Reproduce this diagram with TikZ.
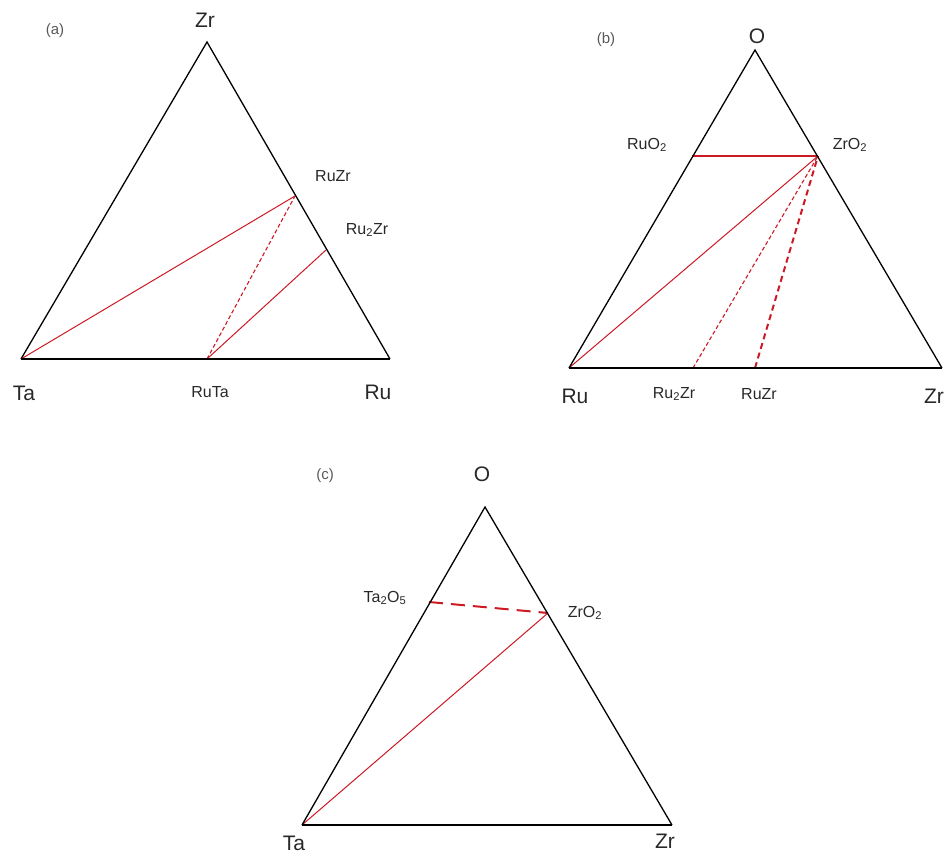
\documentclass[tikz,border=0pt]{standalone}
\usepackage{fontspec}
\setmainfont{Liberation Sans}
\definecolor{tiered}{RGB}{205,25,35}
\definecolor{labgray}{RGB}{40,40,40}
\begin{document}
\begin{tikzpicture}[x=1pt,y=-1pt,
  edge/.style={draw=black, line width=1.3pt},
  baseedge/.style={draw=black, line width=2.2pt},
  tie/.style={draw=tiered, line width=1pt},
  tiethick/.style={draw=tiered, line width=2pt},
  tiedash/.style={draw=tiered, line width=1.1pt, dash pattern=on 4pt off 2.5pt},
  tiedashthick/.style={draw=tiered, line width=2pt, dash pattern=on 6pt off 4pt},
  tielong/.style={draw=tiered, line width=2pt, dash pattern=on 14pt off 8pt},
  vlab/.style={inner sep=0, text=labgray, font=\fontsize{21}{22}\selectfont},
  clab/.style={inner sep=0, text=labgray, font=\fontsize{16}{18}\selectfont},
  plab/.style={inner sep=0, text=black!65, font=\fontsize{15}{16}\selectfont},
]
\useasboundingbox (0,0) rectangle (951,862);

% ---------------- panel (a) ----------------
\coordinate (aZr) at (207,42);
\coordinate (aTa) at (21,359);
\coordinate (aRu) at (390,359);
\coordinate (aRuTa) at (207,359);
\coordinate (aRuZr) at (295,196);
\coordinate (aRu2Zr) at (326,250);

\draw[tie] (aTa) -- (aRuZr);
\draw[tiedash] (aRuTa) -- (aRuZr);
\draw[tie] (aRuTa) -- (aRu2Zr);
\draw[edge] (aTa) -- (aZr) -- (aRu);
\draw[baseedge] (aTa) -- (aRu);

\node[plab] (la) at (55,31) {(a)};
\node[vlab] (laZr) at (205,20) {Zr};
\node[vlab] (laTa) at (24,393) {Ta};
\node[vlab] (laRu) at (378,392) {Ru};
\node[clab] (laRuTa) at (210,392) {RuTa};
\node[clab] (laRuZr) at (333,176) {RuZr};
\node[clab] (laRu2Zr) at (367,230) {Ru\textsubscript{2}Zr};

% ---------------- panel (b) ----------------
\coordinate (bO) at (755,50);
\coordinate (bRu) at (569,368);
\coordinate (bZr) at (942,368);
\coordinate (bRuO2) at (692,156);
\coordinate (bZrO2) at (818,156);
\coordinate (bRu2Zr) at (693,368);
\coordinate (bRuZr) at (755,368);

\draw[tiethick] (bRuO2) -- (bZrO2);
\draw[tie] (bRu) -- (bZrO2);
\draw[tiedash] (bRu2Zr) -- (bZrO2);
\draw[tiedashthick] (bRuZr) -- (bZrO2);
\draw[edge] (bRu) -- (bO) -- (bZr);
\draw[baseedge] (bRu) -- (bZr);

\node[plab] (lb) at (606,40) {(b)};
\node[vlab] (lbO) at (757,36) {O};
\node[clab] (lbRuO2) at (647,145) {RuO\textsubscript{2}};
\node[clab] (lbZrO2) at (850,145) {ZrO\textsubscript{2}};
\node[vlab] (lbRu) at (575,396) {Ru};
\node[clab] (lbRu2Zr) at (674,394) {Ru\textsubscript{2}Zr};
\node[clab] (lbRuZr) at (759,394) {RuZr};
\node[vlab] (lbZr) at (934,396) {Zr};

% ---------------- panel (c) ----------------
\coordinate (cO) at (485,507);
\coordinate (cTa) at (302,825);
\coordinate (cZr) at (672,825);
\coordinate (cTa2O5) at (429,602);
\coordinate (cZrO2) at (548,613);

\draw[tielong] (cTa2O5) -- (cZrO2);
\draw[tie] (cTa) -- (cZrO2);
\draw[edge] (cTa) -- (cO) -- (cZr);
\draw[baseedge] (cTa) -- (cZr);

\node[plab] (lc) at (325,476) {(c)};
\node[vlab] (lcO) at (482,474) {O};
\node[clab] (lcTa2O5) at (385,598) {Ta\textsubscript{2}O\textsubscript{5}};
\node[clab] (lcZrO2) at (585,613) {ZrO\textsubscript{2}};
\node[vlab] (lcTa) at (294,843) {Ta};
\node[vlab] (lcZr) at (665,841) {Zr};
\end{tikzpicture}
\end{document}
